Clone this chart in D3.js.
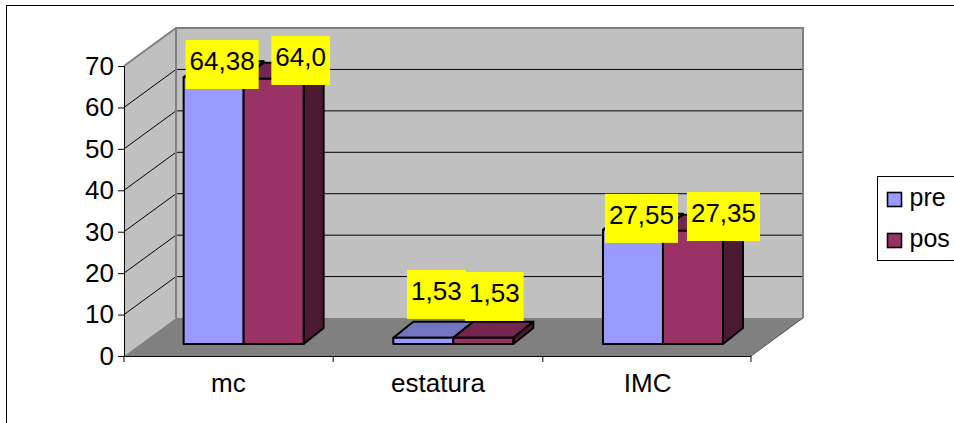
<!DOCTYPE html>
<html>
<head>
<meta charset="utf-8">
<script src="https://cdn.jsdelivr.net/npm/d3@7/dist/d3.min.js"></script>
<style>
html,body{margin:0;padding:0;background:#fff}
svg{display:block}
text{font-family:"Liberation Sans",Arial,sans-serif;fill:#000}
</style>
</head>
<body>
<svg id="chart" width="954" height="423"></svg>
<script>
// Anthropometric measures before and after the intervention
const categories = ["mc", "estatura", "IMC"];
const seriesNames = ["pre", "pos"];
const pre = [64.38, 1.53, 27.55];
const pos = [64.0, 1.53, 27.35];
const preLabels = ["64,38", "1,53", "27,55"];
const posLabels = ["64,0", "1,53", "27,35"];
const yTicks = [0, 10, 20, 30, 40, 50, 60, 70];

// Hand-placed data label offsets from each bar's top centre: [dx, dy]
const preLabelNudge = [[8.5, -12.8], [13, -43.2], [8.5, -11.5]];
const posLabelNudge = [[27, -18.4], [11, -41.2], [30.5, -14.2]];

const colors = {
  pre: { front: "#9999ff", top: "#7373bf" },
  pos: { front: "#993366", top: "#732650", side: "#4c1933" },
  wall: "#c0c0c0", floor: "#808080", edge: "#808080"
};

const svg = d3.select("#chart");
const fontSize = 26;

// Oblique projection: the back wall is the front plane shifted by this vector
const depth = { dx: 52, dy: -38 };
// Bars sit partway into the floor and have their own depth
const barInset = { dx: 15.3, dy: -12 };
const barDepth = { dx: 20, dy: -16 };

const x0 = 124, x1 = 751;
const x = d3.scaleBand().domain(categories).range([123.5, 752.5]);
const inner = d3.scaleBand().domain(seriesNames).range([-60, 60]);
const y = d3.scaleLinear().domain([0, 70]).range([356, 66]);

const pts = a => a.map(p => p.join(",")).join(" ");

// Outer chart frame
svg.append("rect").attr("x", 6.5).attr("y", 5.5).attr("width", 960).attr("height", 430)
  .attr("fill", "#fff").attr("stroke", "#000").attr("stroke-width", 1);

const y0 = y(0), yT = y(70);

// Walls and floor
svg.append("polygon").attr("fill", colors.wall).attr("points", pts([
  [x0 + depth.dx, yT + depth.dy], [x1 + depth.dx, yT + depth.dy],
  [x1 + depth.dx, y0 + depth.dy], [x0 + depth.dx, y0 + depth.dy]]));
svg.append("polygon").attr("fill", colors.wall).attr("points", pts([
  [x0, yT], [x0 + depth.dx, yT + depth.dy], [x0 + depth.dx, y0 + depth.dy], [x0, y0]]));
svg.append("polygon").attr("fill", colors.floor).attr("points", pts([
  [x0, y0], [x0 + depth.dx, y0 + depth.dy], [x1 + depth.dx, y0 + depth.dy], [x1, y0]]));

// Gridlines run along the side wall and across the back wall
const grid = svg.append("g").attr("fill", "none").attr("stroke", "#000").attr("stroke-width", 1);
yTicks.filter(t => t > 0 && t < 70).forEach(t => {
  grid.append("polyline").attr("points", pts([
    [x0, y(t)], [x0 + depth.dx, y(t) + depth.dy], [x1 + depth.dx, y(t) + depth.dy]]));
});

// Grey wall outlines
svg.append("polyline").attr("fill", "none").attr("stroke", colors.edge).attr("stroke-width", 2)
  .attr("points", pts([
    [x0, yT], [x0 + depth.dx, yT + depth.dy], [x1 + depth.dx, yT + depth.dy], [x1 + depth.dx, y0 + depth.dy]]));
svg.append("line").attr("stroke", colors.edge).attr("stroke-width", 2)
  .attr("x1", x0 + depth.dx).attr("x2", x0 + depth.dx)
  .attr("y1", yT + depth.dy).attr("y2", y0 + depth.dy);
svg.append("line").attr("stroke", "#555").attr("stroke-width", 1)
  .attr("x1", x1).attr("y1", y0).attr("x2", x1 + depth.dx).attr("y2", y0 + depth.dy);

// Value axis
const yAxis = svg.append("g").attr("transform", `translate(${x0},0)`)
  .call(d3.axisLeft(y).tickValues(yTicks).tickSize(6).tickPadding(4));
yAxis.select(".domain").attr("stroke", "#000");
yAxis.selectAll("text").style("font-size", fontSize + "px").style("font-family", '"Liberation Sans",Arial,sans-serif');

// Category axis with ticks on the band boundaries
const xAxisG = svg.append("g");
xAxisG.append("line").attr("stroke", "#000")
  .attr("x1", x0).attr("x2", x1).attr("y1", y0 + 0.5).attr("y2", y0 + 0.5);
[x0, x(categories[1]), x(categories[2]), x1].forEach(tx => {
  xAxisG.append("line").attr("stroke", "#000")
    .attr("x1", tx).attr("x2", tx).attr("y1", y0).attr("y2", y0 + 6);
});
xAxisG.selectAll("text.cat").data(categories).join("text").attr("class", "cat")
  .attr("x", d => x(d) + x.bandwidth() / 2).attr("y", 392)
  .attr("text-anchor", "middle").style("font-size", fontSize + "px").text(d => d);

// Bars: top, side, then front face of each prism
const seriesValues = { pre, pos };
const bars = svg.append("g").attr("stroke", "#000").attr("stroke-width", 2).attr("stroke-linejoin", "round");
const barPos = (cat, name, v) => {
  const cx = x(cat) + x.bandwidth() / 2 + barInset.dx;
  const l = cx + inner(name), r = l + inner.bandwidth();
  return { l, r, t: y(v) + barInset.dy, b: y0 + barInset.dy };
};
seriesNames.forEach(name => {
  categories.forEach((cat, i) => {
    const b = barPos(cat, name, seriesValues[name][i]);
    const d = barDepth;
    bars.append("polygon").attr("fill", colors[name].top).attr("points", pts([
      [b.l, b.t], [b.l + d.dx, b.t + d.dy], [b.r + d.dx, b.t + d.dy], [b.r, b.t]]));
    bars.append("polygon").attr("fill", colors.pos.side).attr("points", pts([
      [b.r, b.t], [b.r + d.dx, b.t + d.dy], [b.r + d.dx, b.b + d.dy], [b.r, b.b]]));
    bars.append("rect").attr("fill", colors[name].front)
      .attr("x", b.l).attr("y", b.t).attr("width", b.r - b.l).attr("height", b.b - b.t);
  });
});

// Yellow value labels
const labelG = svg.append("g");
const addLabel = (name, i, txt, nudge) => {
  const b = barPos(categories[i], name, seriesValues[name][i]);
  const cx = (b.l + b.r) / 2 + nudge[0], cy = b.t + nudge[1];
  const g = labelG.append("g");
  const rect = g.append("rect").attr("fill", "#ffff00");
  const t = g.append("text").attr("x", cx).attr("y", cy + 6)
    .attr("text-anchor", "middle").style("font-size", fontSize + "px").text(txt);
  const w = t.node().getComputedTextLength() + 8;
  rect.attr("x", cx - w / 2).attr("y", cy - 24.5).attr("width", w).attr("height", 49);
};
preLabels.forEach((s, i) => addLabel("pre", i, s, preLabelNudge[i]));
posLabels.forEach((s, i) => addLabel("pos", i, s, posLabelNudge[i]));

// Legend box, running off the right edge
const legend = svg.append("g");
legend.append("rect").attr("x", 877.5).attr("y", 176.5).attr("width", 100).attr("height", 84)
  .attr("fill", "#fff").attr("stroke", "#000");
const legendY = d3.scalePoint().domain(seriesNames).range([200, 241]);
seriesNames.forEach(name => {
  legend.append("rect").attr("x", 887.5).attr("y", legendY(name) - 7.5).attr("width", 14).attr("height", 14)
    .attr("fill", colors[name].front).attr("stroke", "#000").attr("stroke-width", 1.6);
  legend.append("text").attr("x", 909.5).attr("y", legendY(name) + 6)
    .style("font-size", "25px").text(name);
});
</script>
</body>
</html>
